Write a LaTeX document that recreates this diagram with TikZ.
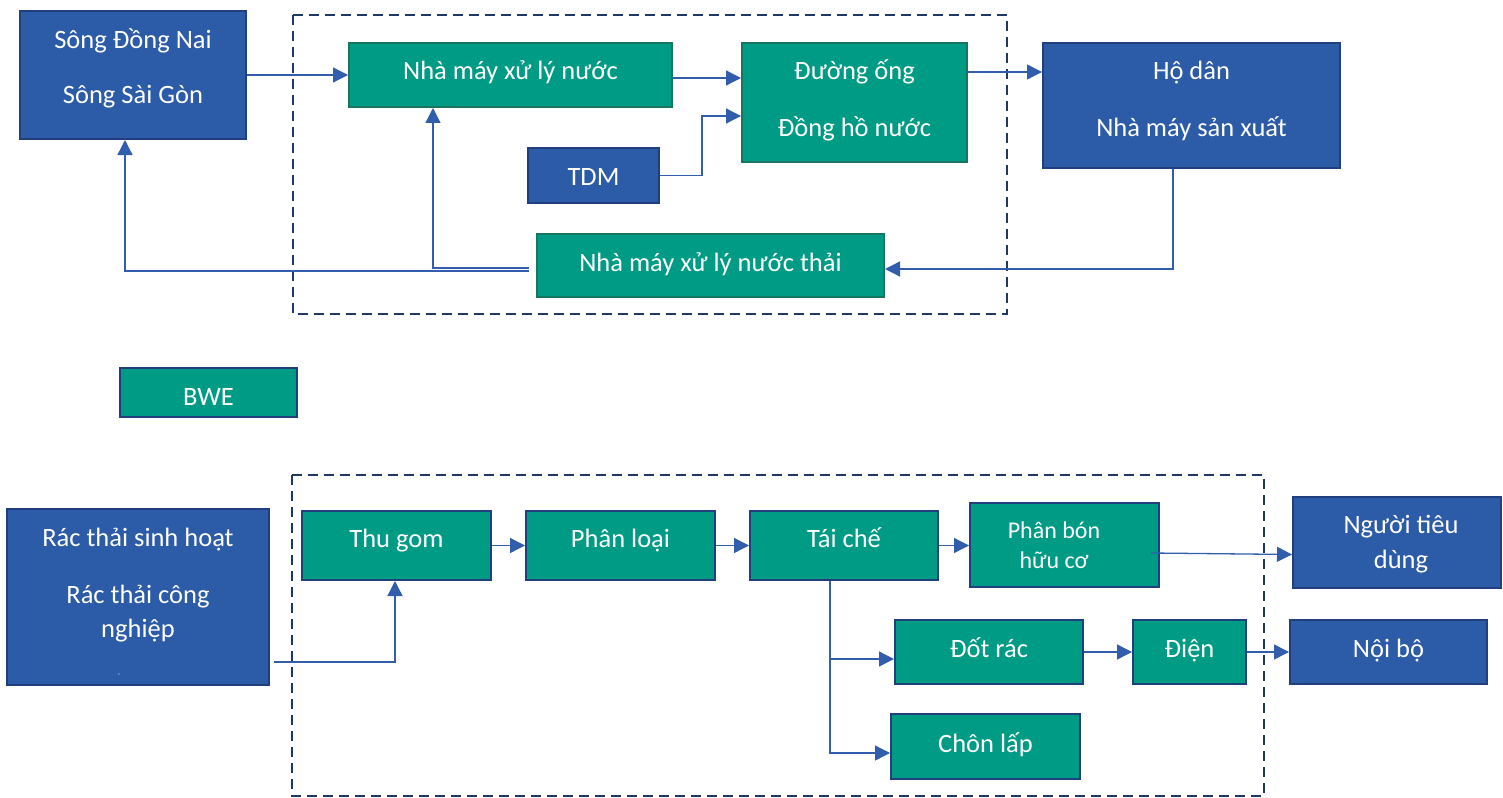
\documentclass[tikz,border=0pt]{standalone}
\usepackage{fontspec}
\setmainfont{Carlito}
\usetikzlibrary{arrows.meta}
\definecolor{bfill}{RGB}{44,91,168}
\definecolor{bedge}{RGB}{33,63,125}
\definecolor{gfill}{RGB}{0,155,132}
\definecolor{gedge}{RGB}{22,118,96}
\definecolor{arrc}{RGB}{50,92,172}
\definecolor{dashc}{RGB}{31,56,100}
\tikzset{
  bluebox/.style={draw=bedge, fill=bfill, line width=2pt, inner sep=0pt},
  greenbox/.style={draw=gedge, fill=gfill, line width=2pt, inner sep=0pt},
  greenboxb/.style={draw=bedge, fill=gfill, line width=2pt, inner sep=0pt},
  txt/.style={text=white, anchor=base, inner sep=0pt, font=\fontsize{26.5}{31}\selectfont},
  txts/.style={text=white, anchor=base, inner sep=0pt, font=\fontsize{24}{28}\selectfont},
  arr/.style={draw=arrc, line width=1.3pt, -{Triangle[length=15pt,width=15pt]}},
  frame/.style={draw=dashc, line width=2.5pt, dash pattern=on 10pt off 6pt}
}
\begin{document}
\begin{tikzpicture}[x=1pt,y=-1pt]
\useasboundingbox (0,0) rectangle (1503,797);
% frames
\draw[frame] (293,15) rectangle (1007,314);
\draw[frame] (292,475) rectangle (1264,796);
% top boxes
\node[bluebox, minimum width=226pt, minimum height=128pt] (sg) at (133,75) {};
\node[txt] (sg1) at (133,49) {Sông Đồng Nai};
\node[txt] (sg2) at (133,104) {Sông Sài Gòn};
\node[greenbox, minimum width=323pt, minimum height=64pt] (nm) at (510.5,75) {};
\node[txt] (nmt) at (510.5,80) {Nhà máy xử lý nước};
\node[greenbox, minimum width=225pt, minimum height=119pt] (do) at (854.5,102.5) {};
\node[txt] (do1) at (854.5,80) {Đường ống};
\node[txt] (do2) at (854.5,136) {Đồng hồ nước};
\node[bluebox, minimum width=131pt, minimum height=55pt] (tdm) at (593.5,175.5) {};
\node[txt] (tdmt) at (593.5,185) {TDM};
\node[greenbox, minimum width=347pt, minimum height=63pt] (nt) at (710.5,265.5) {};
\node[txt] (ntt) at (710.5,271) {Nhà máy xử lý nước thải};
\node[bluebox, minimum width=297pt, minimum height=125pt] (hd) at (1191.5,105.5) {};
\node[txt] (hd1) at (1191.5,80) {Hộ dân};
\node[txt] (hd2) at (1191.5,136) {Nhà máy sản xuất};
\node[greenboxb, minimum width=177pt, minimum height=49pt] (bwe) at (208.5,392.5) {};
\node[txt] (bwet) at (208.5,405) {BWE};
% bottom boxes
\node[bluebox, minimum width=262pt, minimum height=176pt] (rac) at (138,597) {};
\node[txt] (rac1) at (138,546) {Rác thải sinh hoạt};
\node[txt] (rac2) at (138,603) {Rác thải công};
\node[txt] (rac3) at (138,637) {nghiệp};
\node[text=white, inner sep=0pt, font=\fontsize{7}{8}\selectfont] (racd) at (119,675) {-};
\node[greenboxb, minimum width=189pt, minimum height=69pt] (tg) at (396.5,545.5) {};
\node[txt] (tgt) at (396.5,547) {Thu gom};
\node[greenboxb, minimum width=189pt, minimum height=69pt] (pl) at (620.5,545.5) {};
\node[txt] (plt) at (620.5,547) {Phân loại};
\node[greenboxb, minimum width=188pt, minimum height=69pt] (tc) at (844,545.5) {};
\node[txt] (tct) at (844,547) {Tái chế};
\node[greenboxb, minimum width=189pt, minimum height=84pt] (pb) at (1064.5,545) {};
\node[txts] (pb1) at (1054,538) {Phân bón};
\node[txts] (pb2) at (1054,568) {hữu cơ};
\node[bluebox, minimum width=208pt, minimum height=91pt] (ntd) at (1397,542.5) {};
\node[txt] (ntd1) at (1401,533) {Người tiêu};
\node[txt] (ntd2) at (1401,568) {dùng};
\node[greenboxb, minimum width=188pt, minimum height=64pt] (dr) at (989,652) {};
\node[txt] (drt) at (989,657) {Đốt rác};
\node[greenboxb, minimum width=113pt, minimum height=64pt] (di) at (1189.5,652) {};
\node[txt] (dit) at (1189.5,657) {Điện};
\node[bluebox, minimum width=197pt, minimum height=64pt] (nb) at (1388.5,652) {};
\node[txt] (nbt) at (1388.5,657) {Nội bộ};
\node[greenboxb, minimum width=189pt, minimum height=65pt] (cl) at (985.5,746.5) {};
\node[txt] (clt) at (985.5,752) {Chôn lấp};
% top connectors
\draw[arr] (sg.east) -- (nm.west);
\draw[arr] ([yshift=-3pt]nm.east) -- ([yshift=-3pt]nm.east -| do.west);
\draw[arr] (tdm.east) -- ([xshift=42pt]tdm.east) |- ([yshift=-13.5pt]do.west);
\draw[arr] ([yshift=-30pt]do.north east) -- ([yshift=-30pt]hd.north west);
\draw[arr] ([xshift=-18.5pt]hd.south) |- ([yshift=-3.5pt]nt.east);
\draw[arr] ([xshift=-7pt,yshift=-2.5pt]nt.west) -| ([xshift=-77.5pt]nm.south);
\draw[arr] ([xshift=-7pt,yshift=-5.5pt]nt.west) -| ([xshift=-8pt]sg.south);
% bottom connectors
\draw[arr] ([xshift=4pt,yshift=-65pt]rac.east) -| ([xshift=-1.5pt]tg.south);
\draw[arr] (tg.east) -- (pl.west);
\draw[arr] (pl.east) -- (tc.west);
\draw[arr] (tc.east) -- (tc.east -| pb.west);
\draw[arr] ([xshift=-9pt,yshift=-8pt]pb.east) -- ([yshift=-12pt]ntd.west);
\draw[arr] ([xshift=-14pt]tc.south) |- ([yshift=-7pt]dr.west);
\draw[arr] ([xshift=-14pt]tc.south) |- ([yshift=-6.5pt]cl.west);
\draw[arr] (dr.east) -- (di.west);
\draw[arr] (di.east) -- (nb.west);
\end{tikzpicture}
\end{document}
